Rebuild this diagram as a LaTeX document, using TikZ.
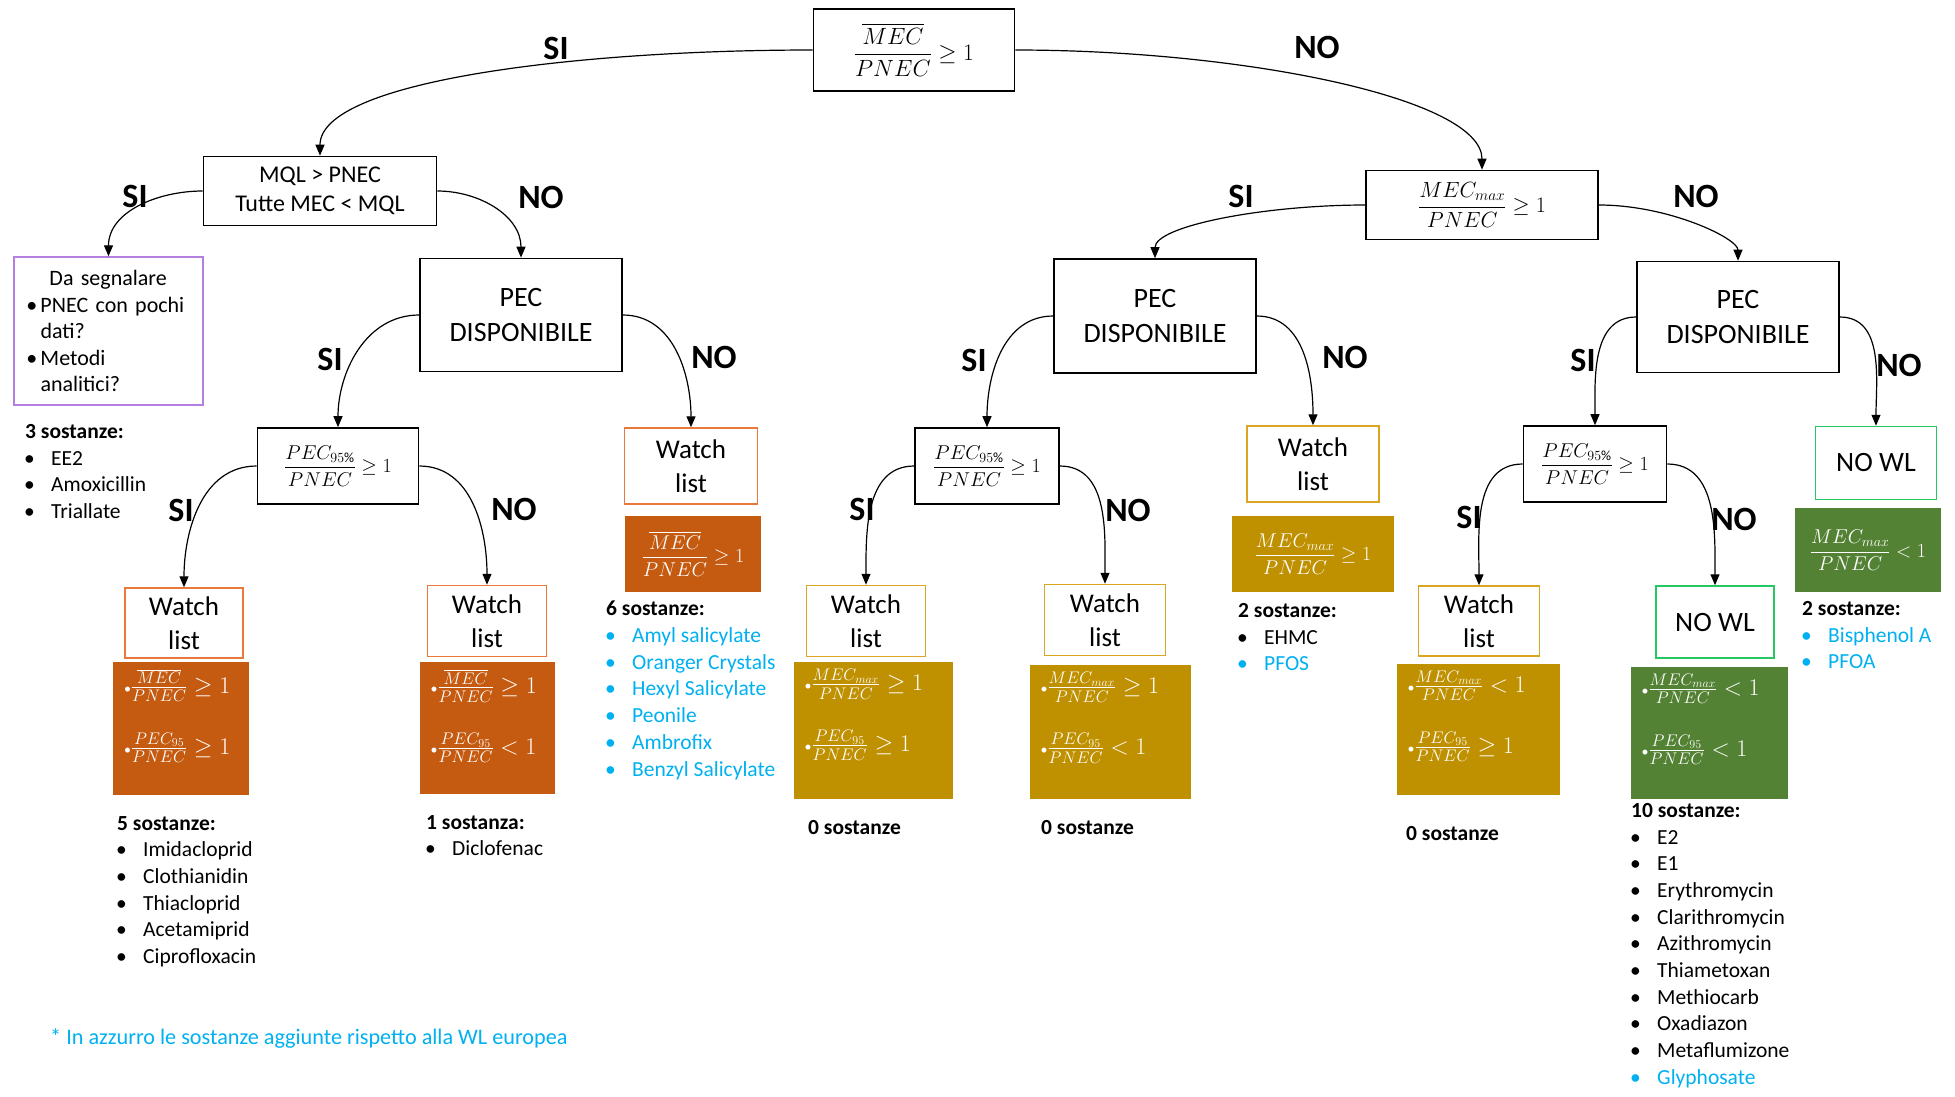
\RequirePackage{fix-cm}
\documentclass[tikz,border=0pt]{standalone}
\usepackage{amsmath}
\usepackage{fontspec}
\setmainfont{Carlito}
\usetikzlibrary{positioning, arrows.meta}

\definecolor{orng}{HTML}{C55A11}
\definecolor{orngline}{HTML}{E8793A}
\definecolor{gold}{HTML}{BF9000}
\definecolor{goldline}{HTML}{DAA520}
\definecolor{grn}{HTML}{548235}
\definecolor{grnline}{HTML}{26C863}
\definecolor{viola}{HTML}{B47FE0}
\definecolor{azzurro}{HTML}{00B0F0}

\newcommand{\fs}[2]{\fontsize{#1}{#2}\selectfont}
\newcommand{\mecbar}{\overline{MEC}}
\newcommand{\mecmax}{MEC_{max}}
\newcommand{\pecp}{PEC_{95\%}}
\newcommand{\pecn}{PEC_{95}}
% display fraction / bulleted inline fraction
\newcommand{\dfr}[2]{$\displaystyle\frac{#1}{PNEC}#2$}
\newcommand{\bfr}[2]{{\fs{14}{16}\textbullet}$\frac{#1}{PNEC}#2$}
% list items
\newcommand{\itm}[1]{\makebox[26pt][l]{\hspace*{-1pt}\textbullet}#1}
\newcommand{\itmb}[1]{\textcolor{azzurro}{\itm{#1}}}
\newcommand{\segdot}{\makebox[10pt][l]{\hspace*{-4pt}\textbullet}}

\begin{document}
\begin{tikzpicture}[x=1pt, y=-1pt,
    qbox/.style={draw, line width=1.6pt, align=center, inner sep=0pt},
    wlbox/.style={draw=#1, line width=1.5pt, align=center, inner sep=0pt,
      minimum width=119pt, minimum height=71pt, font=\fs{27}{34}},
    fillbox/.style={fill=#1, text=white, inner sep=0pt, font=\fs{20}{24}},
    cndtxt/.style={anchor=north west, align=left, inner sep=0pt, text=white, font=\fs{24}{28}},
    yn/.style={font=\fs{34}{40}\bfseries, inner sep=0pt},
    lst/.style={anchor=north west, align=left, inner sep=0pt, font=\fs{21.5}{26.7}},
    arr/.style={-{Triangle[length=11pt, width=9pt]}, line width=1.2pt},
    wide/.style={out looseness=1.2, in looseness=0.38},
  ]
  \useasboundingbox (0,0) rectangle (1955,1096);

  % decision boxes
  \node[qbox, minimum width=201pt, minimum height=82pt, font=\fs{23.5}{30}] (top) at (914,50) {\dfr{\mecbar}{\geq 1}};
  \node[qbox, minimum width=233pt, minimum height=69pt, font=\fs{24}{29}] (mql) at (320,191) {MQL > PNEC\\Tutte MEC < MQL};
  \node[qbox, minimum width=232pt, minimum height=69pt, font=\fs{22}{25}] (mmax) at (1482,205) {\dfr{\mecmax}{\geq 1}};
  \node[qbox, minimum width=202pt, minimum height=113pt, font=\fs{28}{35}] (pec1) at (521,315) {PEC\\DISPONIBILE};
  \node[qbox, minimum width=202pt, minimum height=114pt, font=\fs{28}{35}] (pec2) at (1155,316) {PEC\\DISPONIBILE};
  \node[qbox, minimum width=202pt, minimum height=111pt, font=\fs{28}{35}] (pec3) at (1738,317) {PEC\\DISPONIBILE};
  \node[qbox, minimum width=161pt, minimum height=76pt, font=\fs{20}{23}] (p95a) at (338,466) {\dfr{\pecp}{\geq 1}};
  \node[qbox, minimum width=144pt, minimum height=76pt, font=\fs{20}{23}] (p95b) at (987,466) {\dfr{\pecp}{\geq 1}};
  \node[qbox, minimum width=143pt, minimum height=76pt, font=\fs{20}{23}] (p95c) at (1595,464) {\dfr{\pecp}{\geq 1}};

  % note box
  \node[draw=viola, line width=1.4pt, minimum width=189pt, minimum height=148pt,
    text width=156pt, align=left, inner sep=0pt, font=\fs{22}{26.5}] (seg) at (108.5,331)
    {\hspace*{19pt}Da segnalare\\\segdot PNEC con pochi\\\hspace*{10pt}dati?\\\segdot Metodi\\\hspace*{10pt}analitici?};

  % outcome boxes
  \node[wlbox=orngline, minimum width=133pt, minimum height=76pt] (wl1) at (691,466) {Watch\\list};
  \node[wlbox=orngline, minimum width=118pt, minimum height=70pt] (w1a) at (184,623) {Watch\\list};
  \node[wlbox=orngline] (w1b) at (487,621) {Watch\\list};
  \node[wlbox=goldline, minimum width=132pt, minimum height=76pt] (wl2) at (1313,464) {Watch\\list};
  \node[wlbox=goldline] (w2a) at (866,621) {Watch\\list};
  \node[wlbox=goldline, minimum width=121pt] (w2b) at (1105,620) {Watch\\list};
  \node[wlbox=grnline, minimum width=121pt, minimum height=73pt, font=\fs{28}{34}] (nw3) at (1876,463) {NO WL};
  \node[wlbox=goldline, minimum width=121pt, minimum height=70pt] (w3a) at (1479,621) {Watch\\list};
  \node[wlbox=grnline, minimum width=118pt, minimum height=72pt, font=\fs{28}{34}] (nw3b) at (1715,622) {NO WL};

  % coloured conditions
  \node[fillbox=orng, minimum width=136pt, minimum height=76pt, below=11pt of wl1, xshift=2pt] (f1) {\dfr{\mecbar}{\geq 1}};
  \node[fillbox=gold, minimum width=162pt, minimum height=76pt, below=13pt of wl2] (f2) {\dfr{\mecmax}{\geq 1}};
  \node[fillbox=grn, minimum width=146pt, minimum height=84pt, below=8pt of nw3, xshift=-8pt] (f3) {\dfr{\mecmax}{< 1}};

  \node[fillbox=orng, minimum width=136pt, minimum height=133pt, below=3pt of w1a, xshift=-3pt] (f1a) {};
  \node[fillbox=orng, minimum width=135pt, minimum height=132pt, below=5pt of w1b] (f1b) {};
  \node[fillbox=gold, minimum width=159pt, minimum height=137pt, below=5pt of w2a, xshift=7pt] (f2a) {};
  \node[fillbox=gold, minimum width=161pt, minimum height=134pt, below=9pt of w2b, xshift=5pt] (f2b) {};
  \node[fillbox=gold, minimum width=163pt, minimum height=131pt, below=7pt of w3a, xshift=-1pt] (f3a) {};
  \node[fillbox=grn, minimum width=157pt, minimum height=132pt, below=8pt of nw3b, xshift=-6pt] (f3b) {};

  \node[cndtxt, below right=7pt and 11pt of f1a.north west] (t1a) {\bfr{\mecbar}{\geq 1}\\[30pt]\bfr{\pecn}{\geq 1}};
  \node[cndtxt, below right=7pt and 11pt of f1b.north west] (t1b) {\bfr{\mecbar}{\geq 1}\\[30pt]\bfr{\pecn}{< 1}};
  \node[cndtxt, below right=7pt and 11pt of f2a.north west] (t2a) {\bfr{\mecmax}{\geq 1}\\[30pt]\bfr{\pecn}{\geq 1}};
  \node[cndtxt, below right=7pt and 11pt of f2b.north west] (t2b) {\bfr{\mecmax}{\geq 1}\\[30pt]\bfr{\pecn}{< 1}};
  \node[cndtxt, below right=7pt and 11pt of f3a.north west] (t3a) {\bfr{\mecmax}{< 1}\\[30pt]\bfr{\pecn}{\geq 1}};
  \node[cndtxt, below right=7pt and 11pt of f3b.north west] (t3b) {\bfr{\mecmax}{< 1}\\[30pt]\bfr{\pecn}{< 1}};

  % substance lists
  \node[lst] (l3) at (25,424) {\textbf{3 sostanze:}\\\itm{EE2}\\\itm{Amoxicillin}\\\itm{Triallate}};
  \node[lst] (l5) at (117,816) {\textbf{5 sostanze:}\\\itm{Imidacloprid}\\\itm{Clothianidin}\\\itm{Thiacloprid}\\\itm{Acetamiprid}\\\itm{Ciprofloxacin}};
  \node[lst] (l1) at (426,815) {\textbf{1 sostanza:}\\\itm{Diclofenac}};
  \node[lst] (l6) at (606,601) {\textbf{6 sostanze:}\\\itmb{Amyl salicylate}\\\itmb{Oranger Crystals}\\\itmb{Hexyl Salicylate}\\\itmb{Peonile}\\\itmb{Ambrofix}\\\itmb{Benzyl Salicylate}};
  \node[lst] (l2) at (1238,603) {\textbf{2 sostanze:}\\\itm{EHMC}\\\itmb{PFOS}};
  \node[lst] (l2b) at (1802,601) {\textbf{2 sostanze:}\\\itmb{Bisphenol A}\\\itmb{PFOA}};
  \node[lst] (l10) at (1631,803) {\textbf{10 sostanze:}\\\itm{E2}\\\itm{E1}\\\itm{Erythromycin}\\\itm{Clarithromycin}\\\itm{Azithromycin}\\\itm{Thiametoxan}\\\itm{Methiocarb}\\\itm{Oxadiazon}\\\itm{Metaflumizone}\\\itmb{Glyphosate}};
  \node[lst, anchor=west] (z2a) at (808,828) {\textbf{0 sostanze}};
  \node[lst, anchor=west] (z2b) at (1041,828) {\textbf{0 sostanze}};
  \node[lst, anchor=west] (z3a) at (1406,834) {\textbf{0 sostanze}};
  \node[lst, anchor=west, text=azzurro, font=\fs{22.2}{26}] (note) at (50,1039) {* In azzurro le sostanze aggiunte rispetto alla WL europea};

  % SI / NO labels
  \node[yn] (si0) at (556,48) {SI};
  \node[yn] (no0) at (1317,47) {NO};
  \node[yn] (si1) at (135,196) {SI};
  \node[yn] (no1) at (541,197) {NO};
  \node[yn] (si2) at (1241,196) {SI};
  \node[yn] (no2) at (1696,196) {NO};
  \node[yn] (si3) at (330,359) {SI};
  \node[yn] (no3) at (714,357) {NO};
  \node[yn] (si4) at (974,360) {SI};
  \node[yn] (no4) at (1345,357) {NO};
  \node[yn] (si5) at (1583,360) {SI};
  \node[yn] (no5) at (1899,365) {NO};
  \node[yn] (si6) at (181,510) {SI};
  \node[yn] (no6) at (514,509) {NO};
  \node[yn] (si7) at (862,509) {SI};
  \node[yn] (no7) at (1128,510) {NO};
  \node[yn] (si8) at (1469,517) {SI};
  \node[yn] (no8) at (1734,519) {NO};

  % connectors
  \draw[arr] (top.west) to[out=180, in=90, wide] (mql.north);
  \draw[arr] (top.east) to[out=0, in=90, wide] (mmax.north);
  \draw[arr] (mql.west) to[out=180, in=90] (seg.north);
  \draw[arr] (mql.east) to[out=0, in=90] (pec1.north);
  \draw[arr] (mmax.west) to[out=180, in=90, wide] (pec2.north);
  \draw[arr] (mmax.east) to[out=0, in=90, wide] (pec3.north);
  \draw[arr] (pec1.west) to[out=180, in=90] (p95a.north);
  \draw[arr] (pec1.east) to[out=0, in=90] (wl1.north);
  \draw[arr] (pec2.west) to[out=180, in=90] (p95b.north);
  \draw[arr] (pec2.east) to[out=0, in=90] (wl2.north);
  \draw[arr] (pec3.west) to[out=180, in=90] (p95c.north);
  \draw[arr] (pec3.east) to[out=0, in=90] (nw3.north);
  \draw[arr] (p95a.west) to[out=180, in=90] (w1a.north);
  \draw[arr] (p95a.east) to[out=0, in=90] (w1b.north);
  \draw[arr] (p95b.west) to[out=180, in=90] (w2a.north);
  \draw[arr] (p95b.east) to[out=0, in=90] (w2b.north);
  \draw[arr] (p95c.west) to[out=180, in=90] (w3a.north);
  \draw[arr] (p95c.east) to[out=0, in=90] (nw3b.north);
\end{tikzpicture}
\end{document}
